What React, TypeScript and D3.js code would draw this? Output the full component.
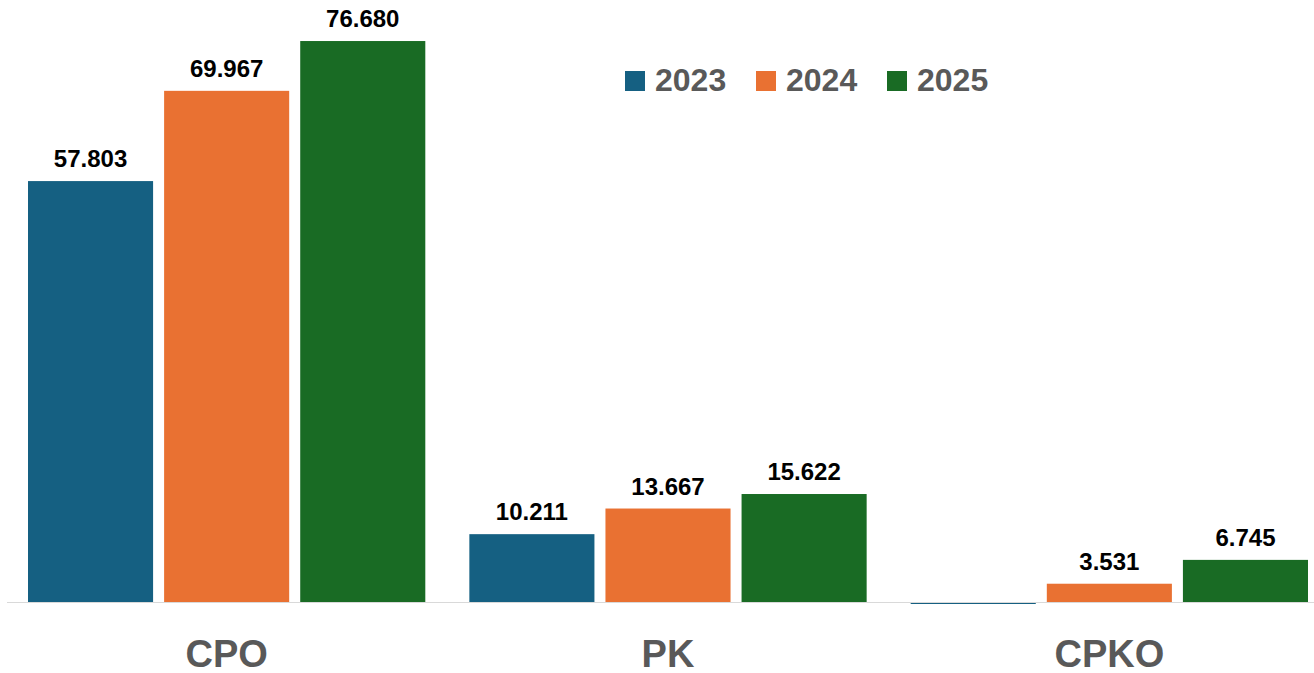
import React from "react"
import * as d3 from "d3"

const categories = ["CPO", "PK", "CPKO"]
const years = ["2023", "2024", "2025"]
const values2023 = [57.803, 10.211, 0]
const values2024 = [69.967, 13.667, 3.531]
const values2025 = [76.680, 15.622, 6.745]
const colors = ["#156082", "#E97132", "#196B24"]

const width = 1314
const height = 673
const font = "'Liberation Sans', Arial, sans-serif"

export default function App() {
  const series = [values2023, values2024, values2025]

  // value axis crosses at 1, like the source chart
  const y = d3.scaleLinear().domain([1, 80]).range([602.5, 16.4])

  const x0 = d3.scaleBand()
    .domain(categories)
    .range([28, 1308])
    .paddingInner(0.0998)
    .paddingOuter(0)

  const x1 = d3.scaleBand()
    .domain(years)
    .range([0, x0.bandwidth()])
    .paddingInner(0.081)
    .paddingOuter(0)

  const fmt = d3.format(".3f")

  return (
    <svg width={width} height={height}
      style={{ position: "absolute", left: 0, top: 0, background: "#fff" }}>
      <defs>
        <clipPath id="plot">
          <rect x={0} y={0} width={width} height={604} />
        </clipPath>
      </defs>

      <g clipPath="url(#plot)">
        {categories.map((c, i) =>
          years.map((yr, j) => {
            const v = series[j][i]
            const top = Math.min(y(v), y(1))
            const h = Math.abs(y(v) - y(1))
            return (
              <rect key={c + yr}
                x={x0(c) + x1(yr)}
                y={top}
                width={x1.bandwidth()}
                height={h}
                fill={colors[j]} />
            )
          })
        )}
      </g>

      <line x1={7} x2={width} y1={602.5} y2={602.5} stroke="#d9d9d9" strokeWidth={1.2} />

      {categories.map((c, i) =>
        years.map((yr, j) => {
          const v = series[j][i]
          if (v < 1) return null
          return (
            <text key={"l" + c + yr}
              x={x0(c) + x1(yr) + x1.bandwidth() / 2}
              y={y(v) - 14}
              textAnchor="middle"
              fontFamily={font}
              fontWeight="bold"
              fontSize={24}
              fill="#000">
              {fmt(v)}
            </text>
          )
        })
      )}

      {categories.map(c => (
        <text key={"c" + c}
          x={x0(c) + x0.bandwidth() / 2}
          y={667}
          textAnchor="middle"
          fontFamily={font}
          fontWeight="bold"
          fontSize={38}
          fill="#595959">
          {c}
        </text>
      ))}

      {years.map((yr, j) => (
        <g key={"lg" + yr} transform={`translate(${625 + j * 131},0)`}>
          <rect x={0} y={71} width={20} height={20} fill={colors[j]} />
          <text x={30} y={91}
            fontFamily={font}
            fontWeight="bold"
            fontSize={32}
            fill="#595959">
            {yr}
          </text>
        </g>
      ))}
    </svg>
  )
}
